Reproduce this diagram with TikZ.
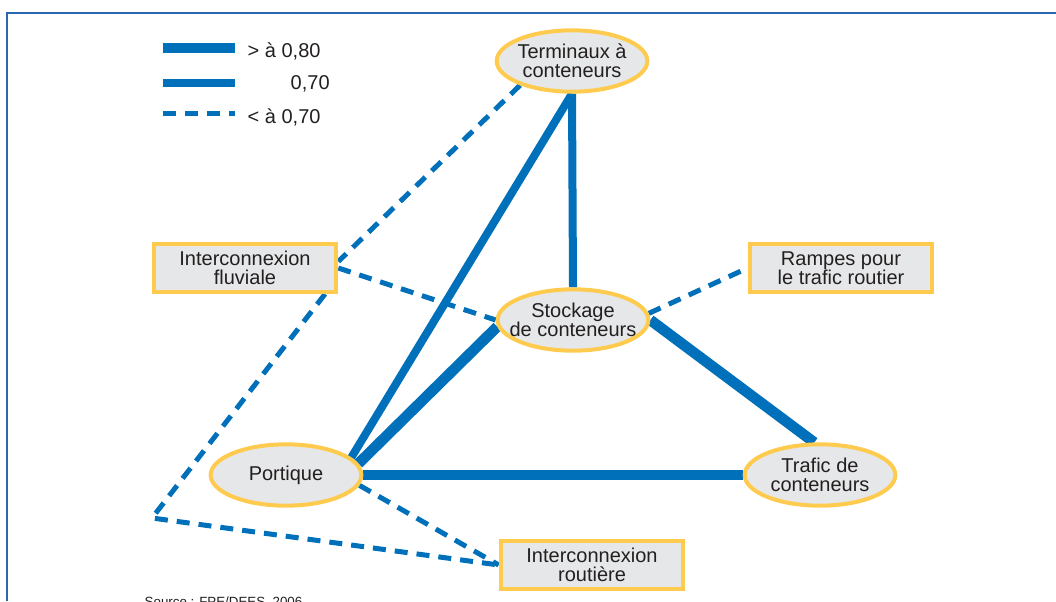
\documentclass[tikz,border=0pt]{standalone}
\usepackage{fontspec}
\setmainfont{Liberation Sans}
\usepackage{xcolor}
\usetikzlibrary{shapes.geometric}
\pgfdeclarelayer{background}
\pgfsetlayers{background,main}
\definecolor{bleulien}{HTML}{0070BA}
\definecolor{cadrebleu}{HTML}{2A67B1}
\definecolor{jaune}{HTML}{FFCB4F}
\definecolor{grisfond}{HTML}{E6E7E8}
\definecolor{gristexte}{HTML}{231F20}

\begin{document}
\begin{tikzpicture}[x=0.75pt,y=-0.75pt,
    txt/.style={text=gristexte,font=\fontsize{15}{14.5}\selectfont},
    poste/.style={ellipse,draw=jaune,line width=3pt,fill=grisfond,minimum width=113pt,minimum height=46pt,inner xsep=-8pt,inner ysep=0pt,align=center,txt},
    acces/.style={rectangle,draw=jaune,line width=3pt,fill=grisfond,minimum width=137pt,minimum height=36pt,inner sep=0pt,align=center,txt},
    fort/.style={draw=bleulien,line width=8pt},
    moyen/.style={draw=bleulien,line width=6pt},
    faible/.style={draw=bleulien,line width=3.75pt,dash pattern=on 9.75pt off 6.75pt}]
      \useasboundingbox (0,0) rectangle (1056,601);
      \draw[cadrebleu, line width=1.5pt] (7,601) -- (7,13) -- (1056,13);

      \draw[fort] (163,48) -- (235,48);
      \draw[moyen] (163,83) -- (235,83);
      \draw[faible] (163,113.5) -- (235,113.5);
      \node[txt, anchor=base west] (leg1) at (243,57) {> à 0,80};
      \node[txt, anchor=base west] (leg2) at (286,89) {0,70};
      \node[txt, anchor=base west] (leg3) at (243,123) {< à 0,70};

      \node[poste] (term) at (572,61) {Terminaux à\\conteneurs};
      \node[poste] (stock) at (573,320) {Stockage\\de conteneurs};
      \node[poste] (trafic) at (820,475) {Trafic de\\conteneurs};
      \node[poste] (port) at (286,475) {Portique};
      \node[acces] (fluv) at (245,268) {Interconnexion\\fluviale\hspace*{0pt}};
      \node[acces] (rampes) at (841,268) {Rampes pour\\le trafic routier};
      \node[acces] (route) at (592,565) {Interconnexion\\routière};
      \coordinate (coude) at (152,518);

      \begin{pgfonlayer}{background}
        \draw[moyen] (term.south) -- (stock.north);
        \draw[moyen] (term.south) -- (port.15);
        \draw[fort] (stock.185) -- (port.9);
        \draw[fort] (stock.east) -- (trafic.100);
        \draw[fort] (port.east) -- (trafic.west);
        \draw[faible] (term.205) -- (fluv.4);
        \draw[faible] (fluv.-18) -- (coude) -- (route.west);
        \draw[faible] (fluv.east) -- (stock.west);
        \draw[faible] (stock.5) -- (rampes.west);
        \draw[faible] (port.-8) -- (route.west);
      \end{pgfonlayer}

      \node[text=gristexte, font=\fontsize{10}{12}\selectfont, anchor=base west] (source) at (140,606) {Source : FPE/DEES, 2006};
    \end{tikzpicture}
\end{document}
